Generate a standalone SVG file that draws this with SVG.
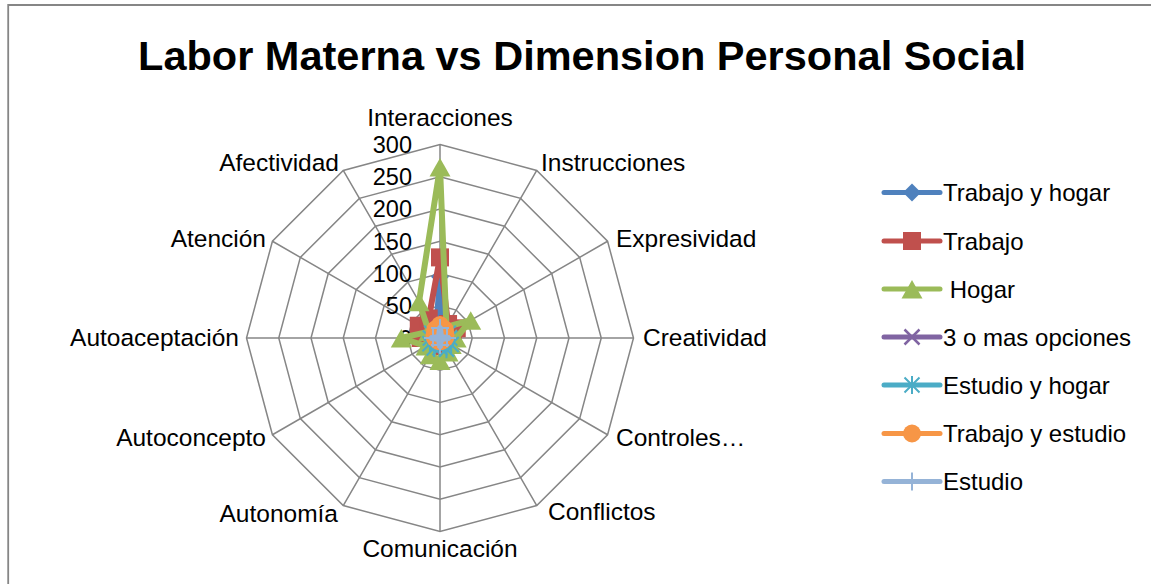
<svg xmlns="http://www.w3.org/2000/svg" width="1151" height="584" viewBox="0 0 1151 584">
<style>
text{font-family:"Liberation Sans",Arial,sans-serif;fill:#000}
.t{font-size:41.5px;font-weight:bold;text-anchor:middle}
.lab{font-size:24.5px}
.leg{font-size:24px}
.tick{font-size:23.5px;text-anchor:end}
.grid{fill:none;stroke:#868686;stroke-width:1.5}
.s{fill:none;stroke-width:6;stroke-linejoin:round;stroke-linecap:round}
.s1{stroke:#4F81BD;marker-start:url(#mDia);marker-mid:url(#mDia)}
.s2{stroke:#C0504D;marker-start:url(#mSq);marker-mid:url(#mSq)}
.s3{stroke:#9BBB59;marker-start:url(#mTri);marker-mid:url(#mTri)}
.s4{stroke:#8064A2;marker-start:url(#mX);marker-mid:url(#mX)}
.s5{stroke:#4BACC6;marker-start:url(#mAst);marker-mid:url(#mAst)}
.s6{stroke:#F79646;marker-start:url(#mCir);marker-mid:url(#mCir)}
.s7{stroke:#95B3D7;marker-start:url(#mPlus);marker-mid:url(#mPlus)}
#legend path{marker-start:none;stroke-width:5}
</style>
<defs>
<marker id="mDia" markerUnits="userSpaceOnUse" viewBox="-12 -12 24 24" markerWidth="24" markerHeight="24" refX="0" refY="0" overflow="visible"><path d="M0,-9 L9,0 L0,9 L-9,0Z" fill="#4F81BD"/></marker>
<marker id="mSq" markerUnits="userSpaceOnUse" viewBox="-12 -12 24 24" markerWidth="24" markerHeight="24" refX="0" refY="0" overflow="visible"><rect x="-9" y="-9" width="18" height="18" fill="#C0504D"/></marker>
<marker id="mTri" markerUnits="userSpaceOnUse" viewBox="-12 -12 24 24" markerWidth="24" markerHeight="24" refX="0" refY="0" overflow="visible"><path d="M0,-9 L10.5,9.5 L-10.5,9.5Z" fill="#9BBB59"/></marker>
<marker id="mX" markerUnits="userSpaceOnUse" viewBox="-12 -12 24 24" markerWidth="24" markerHeight="24" refX="0" refY="0" overflow="visible"><path d="M-7.5,-7.5 L7.5,7.5 M-7.5,7.5 L7.5,-7.5" stroke="#8064A2" stroke-width="2.5"/></marker>
<marker id="mAst" markerUnits="userSpaceOnUse" viewBox="-12 -12 24 24" markerWidth="24" markerHeight="24" refX="0" refY="0" overflow="visible"><path d="M0,-9 L0,9 M-7.5,-7.5 L7.5,7.5 M-7.5,7.5 L7.5,-7.5" stroke="#4BACC6" stroke-width="2"/></marker>
<marker id="mCir" markerUnits="userSpaceOnUse" viewBox="-12 -12 24 24" markerWidth="24" markerHeight="24" refX="0" refY="0" overflow="visible"><circle r="9" fill="#F79646"/></marker>
<marker id="mPlus" markerUnits="userSpaceOnUse" viewBox="-12 -12 24 24" markerWidth="24" markerHeight="24" refX="0" refY="0" overflow="visible"><path d="M0,-9 L0,9 M-9,0 L9,0" stroke="#95B3D7" stroke-width="2"/></marker>
</defs>
<rect width="1151" height="584" fill="#fff"/>
<path id="frame" d="M8.2,600 V5 H1160" fill="none" stroke="#868686" stroke-width="1.8"/>
<text id="title" class="t" x="582" y="70">Labor Materna vs Dimension Personal Social</text>
<g id="grid" class="grid">
<polygon points="440,305.75 456.13,310.07 467.93,321.88 472.25,338 467.93,354.13 456.13,365.93 440,370.25 423.88,365.93 412.07,354.13 407.75,338 412.07,321.88 423.88,310.07"/>
<polygon points="440,273.5 472.25,282.14 495.86,305.75 504.5,338 495.86,370.25 472.25,393.86 440,402.5 407.75,393.86 384.14,370.25 375.5,338 384.14,305.75 407.75,282.14"/>
<polygon points="440,241.25 488.38,254.21 523.79,289.63 536.75,338 523.79,386.38 488.38,421.79 440,434.75 391.63,421.79 356.21,386.38 343.25,338 356.21,289.63 391.63,254.21"/>
<polygon points="440,209 504.5,226.28 551.72,273.5 569,338 551.72,402.5 504.5,449.72 440,467 375.5,449.72 328.28,402.5 311,338 328.28,273.5 375.5,226.28"/>
<polygon points="440,176.75 520.63,198.35 579.65,257.38 601.25,338 579.65,418.63 520.63,477.65 440,499.25 359.38,477.65 300.35,418.63 278.75,338 300.35,257.38 359.38,198.35"/>
<polygon points="440,144.5 536.75,170.43 607.57,241.25 633.5,338 607.57,434.75 536.75,505.57 440,531.5 343.25,505.57 272.43,434.75 246.5,338 272.43,241.25 343.25,170.43"/>
<path d="M440,144.5 L440,531.5 M536.75,170.43 L343.25,505.57 M607.57,241.25 L272.43,434.75 M633.5,338 L246.5,338 M607.57,434.75 L272.43,241.25 M536.75,505.57 L343.25,170.43"/>
</g>
<g id="ticks">
<text class="tick" x="412" y="152.5">300</text>
<text class="tick" x="412" y="185">250</text>
<text class="tick" x="412" y="217">200</text>
<text class="tick" x="412" y="249.5">150</text>
<text class="tick" x="412" y="281.5">100</text>
<text class="tick" x="412" y="314">50</text>
<text class="tick" x="412" y="346.5">0</text>
</g>
<g id="axis-labels">
<text class="lab" x="440" y="126" text-anchor="middle">Interacciones</text>
<text class="lab" x="541" y="171">Instrucciones</text>
<text class="lab" x="616" y="247">Expresividad</text>
<text class="lab" x="643" y="346">Creatividad</text>
<text class="lab" x="616" y="446">Controles…</text>
<text class="lab" x="548" y="520">Conflictos</text>
<text class="lab" x="440" y="557" text-anchor="middle">Comunicación</text>
<text class="lab" x="338" y="522" text-anchor="end">Autonomía</text>
<text class="lab" x="266" y="446" text-anchor="end">Autoconcepto</text>
<text class="lab" x="239" y="346" text-anchor="end">Autoaceptación</text>
<text class="lab" x="266" y="247" text-anchor="end">Atención</text>
<text class="lab" x="339" y="171" text-anchor="end">Afectividad</text>
</g>
<g id="series">
<polygon id="s-trabajo-hogar" class="s s1" points="440,276.72 443.23,332.41 446.70,334.13 446.45,338 444.47,340.58 442.58,342.47 440,343.16 437.42,342.47 435.53,340.58 433.55,338 434.41,334.78 436.13,331.30"/>
<polygon id="s-trabajo" class="s s2" points="440,257.38 448.06,324.03 456.76,328.33 452.9,338 448.38,342.84 444.84,346.38 440,345.74 436.13,344.70 431.62,342.84 420.65,338 418.77,325.75 428.71,318.45"/>
<polygon id="s-hogar" class="s s3" points="440,167.1 446.45,326.83 470.72,320.26 456.13,338 451.17,344.45 448.06,351.97 440,360.58 430.32,354.76 426.03,346.06 401.3,338 428.83,331.55 419.04,301.69"/>
<polygon id="s-3omas" class="s s4" points="440,334.77 441.61,335.2 442.8,336.39 443.23,338 442.8,339.61 441.61,340.8 440,341.23 438.39,340.8 437.2,339.61 436.77,338 437.2,336.39 438.39,335.2"/>
<polygon id="s-estudio-hogar" class="s s5" points="440,330.26 443.87,331.30 448.38,333.16 449.68,338 451.17,344.45 446.45,349.17 440,347.68 434.20,348.05 429.95,343.81 430.32,338 431.62,333.16 436.13,331.30"/>
<polygon id="s-trabajo-estudio" class="s s6" points="440,325.1 444.84,329.62 445.59,334.78 445.16,338 442.8,339.6 441.6,340.8 440,341.23 438.4,340.8 437.2,339.6 434.84,338 434.41,334.78 435.16,329.62"/>
<polygon id="s-estudio" class="s s7" points="440,328 440.97,336.32 441.68,337.03 447,338 441.68,338.97 440.97,339.68 440,345 439.03,339.68 438.32,338.97 433,338 438.32,337.03 439.03,336.32"/>
</g>
<g id="legend">
<g id="lg1"><path class="s s1" d="M884,192.5 L912,192.5 L940,192.5"/><text class="leg" x="943" y="201">Trabajo y hogar</text></g>
<g id="lg2"><path class="s s2" d="M884,241 L912,241 L940,241"/><text class="leg" x="943" y="249.5">Trabajo</text></g>
<g id="lg3"><path class="s s3" d="M884,289 L912,289 L940,289"/><text class="leg" x="943" y="297.5" xml:space="preserve"> Hogar</text></g>
<g id="lg4"><path class="s s4" d="M884,337 L912,337 L940,337"/><text class="leg" x="943" y="345.5">3 o mas opciones</text></g>
<g id="lg5"><path class="s s5" d="M884,385 L912,385 L940,385"/><text class="leg" x="943" y="393.5">Estudio y hogar</text></g>
<g id="lg6"><path class="s s6" d="M884,433.5 L912,433.5 L940,433.5"/><text class="leg" x="943" y="442">Trabajo y estudio</text></g>
<g id="lg7"><path class="s s7" d="M884,481.5 L912,481.5 L940,481.5"/><text class="leg" x="943" y="490">Estudio</text></g>
</g>
</svg>
